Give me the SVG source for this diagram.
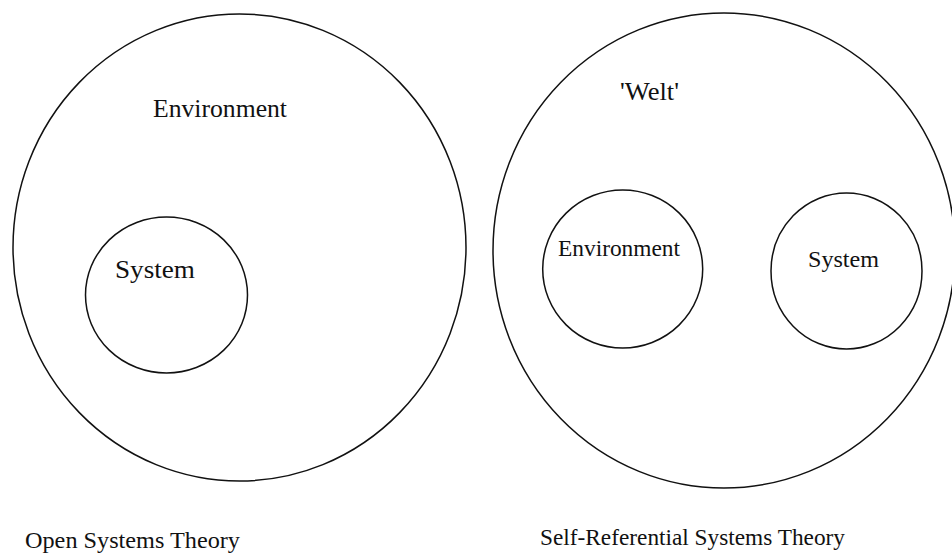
<svg xmlns="http://www.w3.org/2000/svg" width="952" height="556" viewBox="0 0 952 556">
<style>
.c{fill:none;stroke:#111;stroke-width:1.5}
.t{font-family:"Liberation Serif","Times New Roman",serif;fill:#111}
</style>
<rect width="952" height="556" fill="#fff"/>
<g id="open-environment">
<ellipse class="c" cx="239.5" cy="247.5" rx="226.5" ry="233.5"/>
<text class="t" x="153" y="117" font-size="26" textLength="134" lengthAdjust="spacingAndGlyphs">Environment</text>
</g>
<g id="open-system">
<ellipse class="c" cx="166.5" cy="295" rx="81" ry="78"/>
<text class="t" x="115" y="278" font-size="26" textLength="80" lengthAdjust="spacingAndGlyphs">System</text>
</g>
<g id="welt">
<ellipse class="c" cx="724" cy="250.5" rx="231" ry="237.5"/>
<text class="t" x="620" y="100" font-size="26" textLength="59" lengthAdjust="spacingAndGlyphs">'Welt'</text>
</g>
<g id="sr-environment">
<ellipse class="c" cx="622.7" cy="269" rx="80" ry="79"/>
<text class="t" x="558" y="256" font-size="23.5" textLength="122" lengthAdjust="spacingAndGlyphs">Environment</text>
</g>
<g id="sr-system">
<ellipse class="c" cx="846.5" cy="271" rx="75.5" ry="78"/>
<text class="t" x="808" y="267" font-size="24" textLength="71" lengthAdjust="spacingAndGlyphs">System</text>
</g>
<g id="captions">
<text class="t" x="25" y="548" font-size="23" textLength="215" lengthAdjust="spacingAndGlyphs">Open Systems Theory</text>
<text class="t" x="540" y="545" font-size="23" textLength="305" lengthAdjust="spacingAndGlyphs">Self-Referential Systems Theory</text>
</g>
<g id="connectors"></g>
</svg>
